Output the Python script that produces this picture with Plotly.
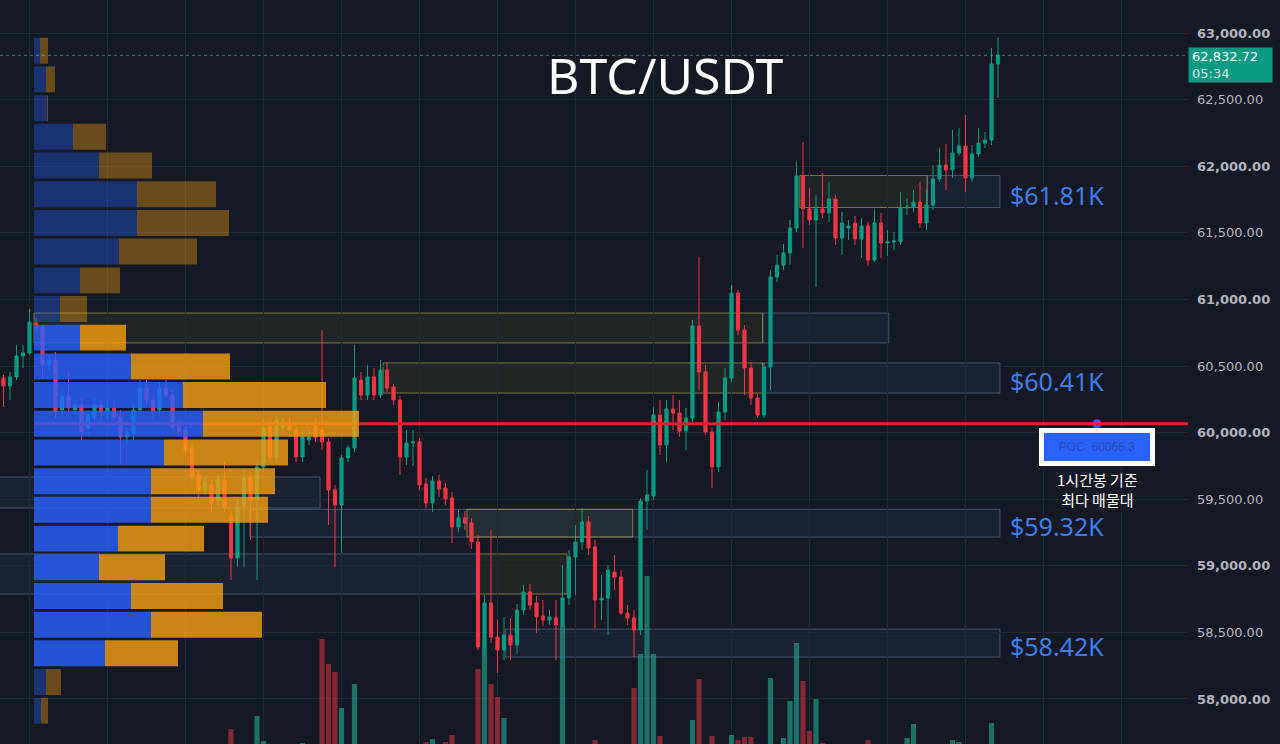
import plotly.graph_objects as go

# ---------------- data ----------------
opens = [60410, 60350, 60418, 60575, 60598, 60823, 60793, 60508, 60545, 60170,
         60275, 60170, 60207, 60035, 60110, 60207, 60140, 60185, 60117, 59967,
         59997, 60170, 60335, 60245, 60170, 60335, 60282, 60057, 60020, 59885,
         59682, 59569, 59607, 59494, 59644, 59366, 59058, 59441, 59667, 59494,
         59742, 60042, 59817, 60042, 60072, 60020, 59817, 59945, 60072, 60020,
         59930, 59569, 59457, 59809, 59885, 60395, 60282, 60418, 60282, 60470,
         60342, 60245, 59817, 59922, 59930, 59614, 59472, 59637, 59584, 59509,
         59291, 59359, 59321, 59179, 58390, 58721, 58465, 58368, 58480, 58405,
         58668, 58803, 58721, 58623, 58593, 58608, 58556, 58758, 59066, 59179,
         59329, 59141, 58743, 58758, 58953, 58916, 58646, 58608, 58518, 59487,
         59524, 60132, 59907, 60177, 60147, 60012, 60110, 60800, 60455, 60005,
         59742, 60155, 60410, 61048, 60770, 60485, 60260, 60132, 60493, 61168,
         61258, 61349, 61536, 61927, 61679, 61596, 61679, 61649, 61754, 61461,
         61536, 61574, 61454, 61551, 61296, 61574, 61424, 61431, 61431, 61686,
         61694, 61731, 61574, 61709, 61904, 62009, 61972, 62099, 62152, 61912,
         62092, 62174, 62197, 62768]
highs = [60433, 60455, 60658, 60658, 60928, 60860, 60808, 60583, 60605, 60320,
         60455, 60245, 60260, 60170, 60260, 60245, 60230, 60230, 60170, 60035,
         60207, 60395, 60395, 60282, 60380, 60395, 60320, 60095, 60050, 59915,
         59719, 59659, 59644, 59682, 59779, 59419, 59494, 59719, 59704, 59794,
         60095, 60095, 60132, 60110, 60110, 60057, 60020, 60020, 60110, 60770,
         59960, 59607, 59832, 59907, 60658, 60455, 60508, 60485, 60545, 60530,
         60365, 60275, 60020, 60020, 59960, 59659, 59674, 59682, 59622, 59554,
         59419, 59411, 59359, 59231, 58781, 59269, 58593, 58616, 58608, 58713,
         58856, 58863, 58773, 58743, 58668, 58743, 59006, 59119, 59306, 59434,
         59374, 59194, 58931, 59006, 59081, 58968, 58706, 58668, 59509, 59719,
         60192, 60245, 60245, 60282, 60245, 60185, 60846, 61318, 60508, 60035,
         60230, 60485, 61108, 61071, 60808, 60530, 60297, 60523, 61221, 61334,
         61416, 61596, 62032, 62182, 61837, 61784, 61949, 61882, 61784, 61656,
         61596, 61626, 61611, 61581, 61671, 61649, 61521, 61506, 61807, 61761,
         61822, 61882, 61822, 62009, 62137, 62167, 62272, 62287, 62385, 62159,
         62287, 62257, 62888, 62970]
lows = [60192, 60245, 60395, 60485, 60583, 60755, 60410, 60470, 60110, 60140,
        60155, 60132, 59945, 59982, 60057, 60095, 60095, 60057, 59757, 59907,
        59945, 60155, 60207, 60095, 60140, 60260, 60020, 59975, 59832, 59629,
        59509, 59532, 59404, 59457, 59404, 58893, 58991, 58991, 59194, 58893,
        59719, 59779, 59779, 60005, 59975, 59779, 59779, 59907, 59930, 59869,
        59306, 58991, 59096, 59779, 59854, 60245, 60245, 60245, 60260, 60305,
        60207, 59682, 59757, 59749, 59569, 59434, 59404, 59517, 59457, 59171,
        59254, 59269, 59126, 58368, 58330, 58420, 58195, 58293, 58293, 58338,
        58631, 58668, 58495, 58548, 58556, 58293, 58533, 58706, 58781, 59119,
        59081, 58533, 58593, 58480, 58818, 58631, 58556, 58315, 58480, 59269,
        59494, 59832, 59779, 60020, 59967, 59869, 60080, 60320, 59982, 59584,
        59704, 60095, 60380, 60733, 60282, 60207, 60110, 60110, 60320, 61131,
        61221, 61258, 61506, 61386, 61559, 61093, 61611, 61581, 61409, 61334,
        61446, 61409, 61311, 61251, 61281, 61311, 61326, 61371, 61409, 61634,
        61656, 61536, 61521, 61671, 61882, 61822, 61912, 62077, 61807, 61882,
        62069, 62137, 62159, 62512]
closes = [60350, 60418, 60575, 60598, 60830, 60793, 60508, 60545, 60155, 60275,
          60185, 60207, 60005, 60132, 60207, 60155, 60185, 60117, 59967, 60005,
          60170, 60335, 60245, 60155, 60335, 60282, 60042, 60005, 59869, 59667,
          59569, 59622, 59472, 59644, 59441, 59058, 59441, 59659, 59494, 59742,
          60035, 59817, 60095, 60080, 60020, 59817, 59967, 59967, 59960, 59930,
          59569, 59457, 59809, 59885, 60410, 60282, 60418, 60282, 60470, 60335,
          60245, 59817, 59922, 59930, 59607, 59472, 59637, 59577, 59502, 59291,
          59359, 59321, 59179, 58390, 58721, 58465, 58368, 58480, 58405, 58668,
          58803, 58706, 58616, 58593, 58616, 58556, 58758, 59066, 59179, 59329,
          59134, 58743, 58758, 58968, 58916, 58646, 58608, 58518, 59487, 59532,
          60132, 59907, 60177, 60147, 60012, 60110, 60800, 60455, 60005, 59742,
          60155, 60410, 61048, 60770, 60485, 60260, 60132, 60493, 61168, 61258,
          61349, 61536, 61927, 61679, 61596, 61679, 61649, 61754, 61461, 61574,
          61551, 61454, 61551, 61296, 61574, 61424, 61431, 61439, 61686, 61694,
          61731, 61574, 61709, 61904, 62009, 61972, 62099, 62152, 61912, 62092,
          62174, 62197, 62768, 62832.72]
volumes = [0, 0, 0, 0, 0, 0, 0, 0, 0, 0,
           0, 0, 0, 0, 0, 0, 0, 0, 0, 0,
           0, 0, 0, 0, 0, 0, 0, 0, 0, 0,
           0, 0, 0, 0, 0, 150, 0, 0, 0, 280,
           30, 0, 0, 0, 0, 0, 10, 0, 0, 1050,
           800, 720, 360, 0, 600, 0, 0, 0, 0, 0,
           0, 0, 0, 0, 0, 20, 50, 0, 20, 90,
           0, 0, 0, 750, 970, 600, 470, 260, 0, 0,
           0, 0, 0, 0, 0, 0, 1190, 0, 0, 0,
           0, 40, 0, 0, 0, 0, 0, 560, 900, 1680,
           900, 80, 0, 0, 0, 0, 240, 650, 0, 80,
           0, 0, 90, 40, 70, 70, 0, 0, 660, 0,
           60, 430, 1010, 630, 130, 450, 10, 0, 0, 0,
           0, 0, 0, 40, 0, 0, 0, 0, 0, 60,
           200, 0, 0, 0, 0, 0, 40, 20, 0, 0,
           0, 0, 210, 0]

# volume profile (price rows, buy / sell volume)
profile_prices = [62867, 62652, 62436, 62221, 62005, 61790, 61574, 61359, 61143, 60928,
                  60713, 60497, 60282, 60066, 59851, 59635, 59420, 59204, 58989, 58773,
                  58558, 58343, 58127, 57912]
profile_buy = [6, 12, 13, 39, 65, 103, 103, 85, 46, 26,
               46, 97, 149, 169, 130, 117, 117, 84, 65, 97,
               117, 71, 12, 7]
profile_sell = [8, 9, 1, 33, 53, 79, 92, 78, 40, 27,
                46, 99, 143, 156, 124, 124, 117, 86, 66, 92,
                111, 73, 15, 7]
profile_value_area = [False] * 10 + [True] * 12 + [False] * 2
poc_price = 60066.3
last_price = 62832.72
countdown = "05:34"

# supply/demand zones: candle index start/end, price low/high, kind
zone_x0 = [116.8, 4.7, 116.8, 58.4, 142.1, 122.5, 37.9, 71.3, -3, 73.0, -3, 77.2]
zone_x1 = [136.2, 116.8, 153.3, 116.8, 153.3, 142.1, 153.3, 96.8, 73.0, 86.7, 48.7, 153.3]
zone_lo = [60673, 60673, 60297, 60297, 61690, 61690, 59216, 59216, 58788, 58788, 59434, 58315]
zone_hi = [60898, 60898, 60523, 60523, 61930, 61930, 59424, 59424, 59089, 59089, 59667, 58525]
zone_kind = ["blue", "yellow", "blue", "yellow", "blue", "yellow", "blue", "yellow",
             "blue", "yellow", "blue", "blue"]
labelled_zones = [2, 4, 6, 11]

price_ticks = [58000, 58500, 59000, 59500, 60000, 60500, 61000, 61500, 62000, 62500, 63000]

# ---------------- style ----------------
BG = "#151924"
GRID = "#232835"
UP = "#089981"
DOWN = "#f23645"
CANDLE_PX = 6.5
FIRST_PX = 3.5
PLOT_W = 1188
PROFILE_LEFT_PX = 34
POC_LABEL_PX = 1097
x_range = [-FIRST_PX / CANDLE_PX, (PLOT_W - FIRST_PX) / CANDLE_PX]
y_range = [57662, 63248]
profile_range = [-PROFILE_LEFT_PX, PLOT_W - PROFILE_LEFT_PX]

n = len(opens)
idx = list(range(n))

fig = go.Figure()

vol_colors = ["rgba(34,171,148,0.6)" if c >= o else "rgba(242,54,69,0.5)"
              for o, c in zip(opens, closes)]
fig.add_trace(go.Bar(x=idx, y=volumes, marker=dict(color=vol_colors, line=dict(width=0)),
                     width=0.8, xaxis="x", yaxis="y", hoverinfo="skip", showlegend=False))

fig.add_trace(go.Candlestick(
    x=idx, open=opens, high=highs, low=lows, close=closes, xaxis="x", yaxis="y2",
    increasing=dict(line=dict(color=UP, width=1), fillcolor=UP),
    decreasing=dict(line=dict(color=DOWN, width=1), fillcolor=DOWN),
    whiskerwidth=0, showlegend=False, hoverinfo="skip"))

# POC label anchor dot
fig.add_trace(go.Scatter(x=[(POC_LABEL_PX - FIRST_PX) / CANDLE_PX], y=[poc_price], mode="markers",
                         marker=dict(color="#2962ff", size=9, symbol="circle"),
                         xaxis="x", yaxis="y2", hoverinfo="skip", showlegend=False))

# POC line (drawn under the profile bars, over candles)
fig.add_trace(go.Bar(orientation="h", y=[poc_price], x=[profile_range[1]], base=0,
                     width=22, marker=dict(color="#e3222b", line=dict(width=0)),
                     xaxis="x2", yaxis="y2", hoverinfo="skip", showlegend=False))

blue_cols = ["rgba(41,98,255,0.8)" if v else "rgba(41,98,255,0.35)" for v in profile_value_area]
orange_cols = ["rgba(245,160,16,0.8)" if v else "rgba(245,160,16,0.38)" for v in profile_value_area]
fig.add_trace(go.Bar(orientation="h", y=profile_prices, x=profile_buy, base=0, width=195,
                     marker=dict(color=blue_cols, line=dict(width=0)),
                     xaxis="x2", yaxis="y2", hoverinfo="skip", showlegend=False))
fig.add_trace(go.Bar(orientation="h", y=profile_prices, x=profile_sell, base=profile_buy, width=195,
                     marker=dict(color=orange_cols, line=dict(width=0)),
                     xaxis="x2", yaxis="y2", hoverinfo="skip", showlegend=False))

# zones
for x0, x1, lo, hi, kind in zip(zone_x0, zone_x1, zone_lo, zone_hi, zone_kind):
    if kind == "yellow":
        line_c, fill_c = "rgba(200,190,80,0.55)", "rgba(150,150,60,0.10)"
    else:
        line_c, fill_c = "rgba(120,150,190,0.45)", "rgba(80,120,180,0.10)"
    fig.add_shape(type="rect", xref="x", yref="y2", x0=x0, x1=x1, y0=lo, y1=hi,
                  line=dict(color=line_c, width=1), fillcolor=fill_c, layer="below")

for k in labelled_zones:
    mid = (zone_lo[k] + zone_hi[k]) / 2
    fig.add_annotation(xref="x", yref="y2", x=zone_x1[k], y=mid, xanchor="left", yanchor="middle",
                       xshift=8, yshift=-3, text=f"${mid / 1000:.2f}K", showarrow=False,
                       font=dict(family="Noto Sans", size=25, color="#3d7ef0"))

# last price dotted line + label
fig.add_shape(type="line", xref="paper", yref="y2", x0=0, x1=1, y0=last_price, y1=last_price,
              line=dict(color="rgba(110,170,160,0.65)", width=1, dash="dot"), layer="above")
fig.add_annotation(xref="paper", x=1.0, xanchor="left", yref="y2", y=last_price, yanchor="top",
                   yshift=8, text=f"{last_price:,.2f}<br><span style='color:#d6efe9'>{countdown}</span>",
                   align="left", showarrow=False, bgcolor=UP, borderpad=3, width=77, height=28,
                   font=dict(family="DejaVu Sans", size=13, color="white"))

# POC label
fig.add_annotation(xref="paper", x=POC_LABEL_PX / PLOT_W, xanchor="center", yref="y2", y=poc_price,
                   yanchor="top", yshift=-4,
                   text=f"POC: {poc_price}", showarrow=False, bgcolor="#2962ff",
                   bordercolor="white", borderwidth=5, borderpad=1, width=104, height=26,
                   font=dict(family="Liberation Sans", size=12, color="#2a4aa6"))
fig.add_annotation(xref="paper", x=POC_LABEL_PX / PLOT_W, xanchor="center", yref="y2", y=poc_price,
                   yanchor="top", yshift=-44, borderpad=0,
                   text="1시간봉 기준<br>최다 매물대", showarrow=False,
                   font=dict(family="Noto Sans CJK KR", size=15, color="white"))

# title
fig.add_annotation(xref="paper", yref="paper", x=665 / PLOT_W, y=1 - 75 / 744,
                   xanchor="center", yanchor="middle", text="BTC/USDT", showarrow=False,
                   font=dict(family="Noto Sans", size=50, color="white"))

tick_text = [f"<b>{v:,.2f}</b>" if v % 1000 == 0 else f"{v:,.2f}" for v in price_ticks]

fig.update_layout(
    width=1280, height=744, margin=dict(l=0, r=92, t=0, b=0),
    paper_bgcolor=BG, plot_bgcolor=BG, barmode="overlay", showlegend=False,
    xaxis=dict(range=x_range, showgrid=True, gridcolor=GRID, gridwidth=1, tick0=16, dtick=12,
               showticklabels=False, zeroline=False, showline=False, rangeslider=dict(visible=False),
               fixedrange=True),
    yaxis=dict(range=[0, 7440], visible=False, fixedrange=True),
    yaxis2=dict(range=y_range, overlaying="y", side="right", tickvals=price_ticks, ticktext=tick_text,
                showgrid=True, gridcolor=GRID, zeroline=False, showline=False, ticks="",
                ticklabelstandoff=8, tickfont=dict(family="DejaVu Sans", size=13, color="#b2b5be"),
                fixedrange=True),
    xaxis2=dict(range=profile_range, overlaying="x", visible=False, fixedrange=True),
)

fig.write_html("out.html", config={"displayModeBar": False})
